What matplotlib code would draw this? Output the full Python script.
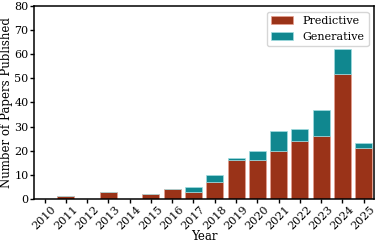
import matplotlib
matplotlib.use("Agg")
import matplotlib.pyplot as plt
import numpy as np

years = [str(y) for y in range(2010, 2026)]
predictive = [0, 1, 0, 3, 0, 2, 4, 3, 7, 16, 16, 20, 24, 26, 52, 21]
generative = [0, 0, 0, 0, 0, 0, 0, 2, 3, 1, 4, 8, 5, 11, 10, 2]

plt.rcParams['font.family'] = ['DejaVu Serif']
fig, ax = plt.subplots(figsize=(3.78, 2.44), dpi=100)
x = np.arange(len(years))
c_pred = '#9a3318'
c_gen = '#10878f'
ax.bar(x, predictive, width=0.8, color=c_pred, edgecolor='#e8a090', linewidth=0.5, label='Predictive')
ax.bar(x, generative, width=0.8, bottom=predictive, color=c_gen, edgecolor='#a0dde0', linewidth=0.5, label='Generative')
ax.set_xticks(x)
ax.set_xticklabels(years, rotation=45, fontsize=8)
ax.set_ylim(0, 80)
ax.set_xlim(-0.5, len(years) - 0.5)
ax.set_yticks(range(0, 81, 10))
ax.tick_params(axis='y', labelsize=8, pad=1, length=3, width=1)
ax.tick_params(axis='x', pad=1, length=3, width=1)
for s in ax.spines.values():
    s.set_linewidth(1.1)
ax.set_xlabel('Year', fontsize=8.5, labelpad=-1)
ax.set_ylabel('Number of Papers Published', fontsize=8.5, labelpad=1)
ax.legend(fontsize=8, loc='upper right')
fig.subplots_adjust(left=0.09, right=0.99, top=0.975, bottom=0.185)
fig.savefig('out.png', dpi=100)
